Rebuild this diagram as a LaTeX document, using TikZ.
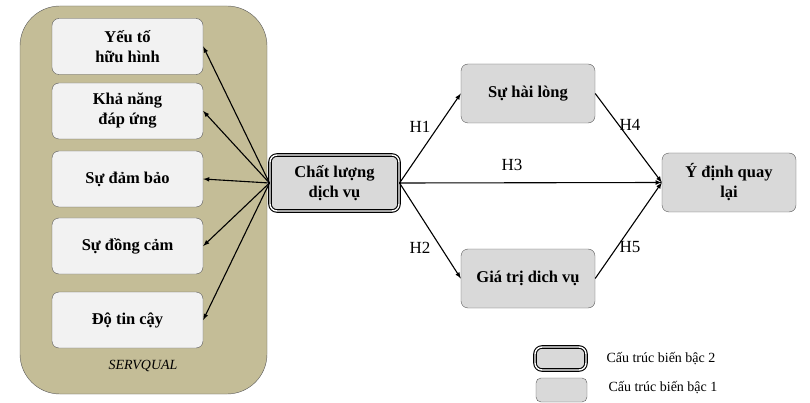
\documentclass[tikz,border=0pt]{standalone}
\usepackage{fontspec}
\setmainfont{Liberation Serif}
\usetikzlibrary{positioning}
\definecolor{tanbg}{HTML}{C4BD97}

\begin{document}
\begin{tikzpicture}[x=1pt,y=-1pt,
	box/.style={draw=black!65, rounded corners=7pt, fill=black!15, align=center, inner sep=0pt,
		font=\bfseries\fontsize{16.5}{20}\selectfont},
	dimbox/.style={box, fill=black!5, minimum width=151pt, minimum height=56pt},
	orderone/.style={box, minimum width=134pt, minimum height=59pt},
	ordertwo/.style={box, draw=black, line width=1.1pt, double=white, double distance=1.4pt},
	arr/.style={-latex, line width=1.1pt},
	hyp/.style={font=\fontsize{17}{19}\selectfont},
	note/.style={font=\fontsize{14}{16}\selectfont, anchor=west}
	]
	\useasboundingbox (0,0) rectangle (810,403);
	% SERVQUAL block
	\filldraw[fill=tanbg, draw=black!65, rounded corners=40pt] (20,6) rectangle (267,394);
	\node[dimbox] (huuhinh) at (127.5,46.5) {Yếu tố\\hữu hình};
	\node[dimbox] (dapung) at (127.5,111) {Khả năng\\đáp ứng};
	\node[dimbox] (dambao) at (127.5,179) {Sự đảm bảo};
	\node[dimbox] (dongcam) at (127.5,246) {Sự đồng cảm};
	\node[dimbox] (tincay) at (127.5,320) {Độ tin cậy};
	\node[font=\itshape\fontsize{14}{16}\selectfont] (servqual) at (143,366) {SERVQUAL};

	% main constructs
	\node[ordertwo, minimum width=129pt, minimum height=56pt] (chatluong) at (334.5,183) {Chất lượng\\dịch vụ};
	\node[orderone] (hailong) at (528,93.5) {Sự hài lòng};
	\node[orderone] (giatri) at (528,278.5) {Giá trị dich vụ};
	\node[orderone] (quaylai) at (729,182.5) {Ý định quay\\lại};

	% dimensions
	\foreach \d in {huuhinh,dapung,dambao,dongcam,tincay}
		\draw[arr] (chatluong.west) -- (\d.east);

	% hypotheses
	\draw[arr] (chatluong.east) -- (hailong.west);
	\draw[arr] (chatluong.east) -- (giatri.west);
	\draw[arr] (chatluong.east) -- (quaylai.west);
	\draw[arr] (hailong.east) -- (quaylai.west);
	\draw[arr] (giatri.east) -- (quaylai.west);
	\node[hyp] (h1) at (420,127) {H1};
	\node[hyp] (h2) at (420,248) {H2};
	\node[hyp] (h3) at (512,165) {H3};
	\node[hyp] (h4) at (630,125) {H4};
	\node[hyp] (h5) at (630,247) {H5};

	% legend
	\node[ordertwo, minimum width=51pt, minimum height=23pt] (keytwo) at (560.5,358.5) {};
	\node[box, minimum width=51pt, minimum height=24pt, rounded corners=5pt] (keyone) at (561.5,390) {};
	\node[note] (texttwo) at (603,359) {Cấu trúc biến bậc 2};
	\node[note] (textone) at (605,388) {Cấu trúc biến bậc 1};
\end{tikzpicture}
\end{document}
